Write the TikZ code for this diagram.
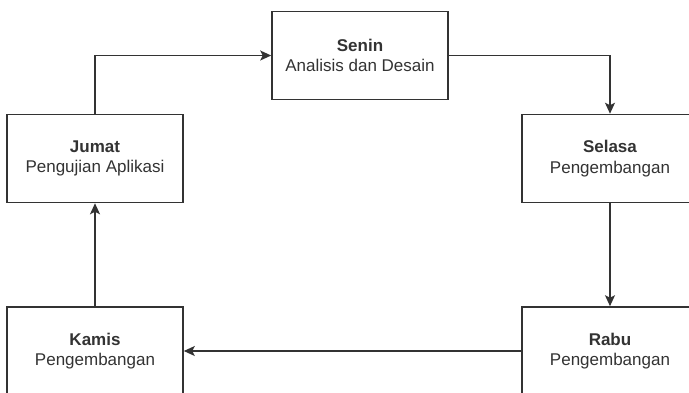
\documentclass[tikz,border=0pt]{standalone}
\usepackage{fontspec}
\setmainfont{Liberation Sans}
\usetikzlibrary{arrows.meta}
\definecolor{ink}{HTML}{333333}
\begin{document}
\begin{tikzpicture}[x=1pt,y=-1pt,
  daybox/.style={draw=ink, line width=1.6pt, fill=white, minimum width=176pt, minimum height=88pt,
    align=center, inner sep=0pt, text=ink, font=\fontsize{17}{20.5}\selectfont},
  flow/.style={draw=ink, line width=1.6pt, -{Stealth[length=11pt,width=10pt,inset=2.5pt]}}]
\useasboundingbox (0,0) rectangle (689,392);
\node[daybox] (senin)  at (360,55.5)  {\textbf{Senin}\\Analisis dan Desain};
\node[daybox] (jumat)  at (95,158.5)  {\textbf{Jumat}\\Pengujian Aplikasi};
\node[daybox] (selasa) at (610,158.5) {\textbf{Selasa}\\Pengembangan};
\node[daybox] (kamis)  at (95,351)    {\textbf{Kamis}\\Pengembangan};
\node[daybox] (rabu)   at (610,351)   {\textbf{Rabu}\\Pengembangan};
\draw[flow] (senin.east) -| (selasa.north);
\draw[flow] (selasa.south) -- (rabu.north);
\draw[flow] (rabu.west) -- (kamis.east);
\draw[flow] (kamis.north) -- (jumat.south);
\draw[flow] (jumat.north) |- (senin.west);
\end{tikzpicture}
\end{document}
